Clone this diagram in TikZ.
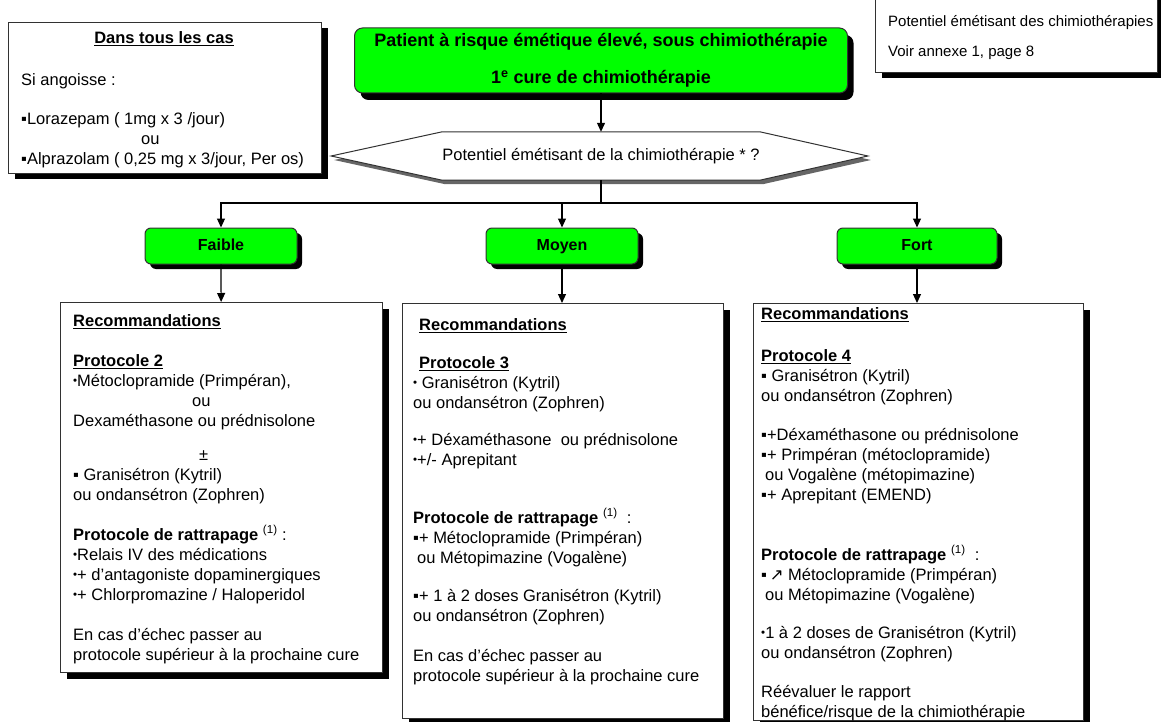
\documentclass[tikz,border=0pt]{standalone}
\usepackage{fontspec}
\setmainfont{Liberation Sans}
\newfontfamily\symfont{DejaVu Sans}
\usetikzlibrary{arrows.meta,shadows,backgrounds,positioning}
\definecolor{vert}{RGB}{0,255,0}
\definecolor{trait}{RGB}{50,50,50}
\tikzstyle{cadre} = [rectangle, draw=trait, fill=white, line width=1pt, inner sep=0pt, anchor=north west,
drop shadow={shadow xshift=6pt, shadow yshift=-6pt, fill=black, opacity=1}]
\tikzstyle{niveau} = [rectangle, rounded corners=6pt, draw=trait, fill=vert, line width=1pt, minimum width=152pt,
minimum height=36pt, text height=12pt, text depth=3pt, font=\fontsize{16}{20}\selectfont\bfseries,
drop shadow={shadow xshift=5pt, shadow yshift=-5pt, fill=black, opacity=1}]
\tikzstyle{texte} = [anchor=north west, align=left, inner sep=0pt, font=\fontsize{16.5}{20}\selectfont]
\tikzstyle{line} = [draw, line width=1.2pt, -{Triangle[length=9pt,width=8pt]}]
\newcommand{\puce}{\raisebox{0.22ex}{\scalebox{0.7}{•}}}
\newcommand{\carre}{▪}

\begin{document}
\begin{tikzpicture}[x=1pt,y=-1pt]
\useasboundingbox (0,0) rectangle (1161,722);

         % encadres du haut
         \node (tous) [cadre, minimum width=313pt, minimum height=151pt] at (8,22) {};
         \node (tous titre) [font=\fontsize{16.5}{20}\selectfont\bfseries] at (164,39) {\underline{Dans tous les cas}};
         \node (tous texte) [texte] at (21,73) {Si angoisse :\\[19pt]
           \carre Lorazepam ( 1mg x 3 /jour)\\
           \hspace*{120pt}ou\\
           \carre Alprazolam ( 0,25 mg x 3/jour, Per os)};

         \node (annexe) [cadre, minimum width=282pt, minimum height=90pt] at (875,-18) {};
         \node (annexe texte) [texte, font=\fontsize{15}{20}\selectfont] at (888,15) {Potentiel émétisant des chimiothérapies\\[10pt]
           Voir annexe 1, page 8};

         \node (patient) [rectangle, rounded corners=8pt, draw=trait, fill=vert, line width=1pt, minimum width=493pt,
           minimum height=65pt, align=center, font=\fontsize{18}{20}\selectfont\bfseries,
           drop shadow={shadow xshift=6pt, shadow yshift=-7pt, fill=black, opacity=1}] at (601,60.5)
           {Patient à risque émétique élevé, sous chimiothérapie\\[17pt] 1\textsuperscript{e} cure de chimiothérapie};

         \node (potentiel) [minimum width=217pt, minimum height=48pt, inner sep=0pt, font=\fontsize{16.5}{20}\selectfont]
           at (601,156) {Potentiel émétisant de la chimiothérapie * ?};
         \begin{scope}[on background layer]
           \fill[black!60] ([shift={(3,4)}]potentiel.north west) -- ([shift={(3,4)}]potentiel.north east)
             -- ([shift={(111,4)}]potentiel.east) -- ([shift={(3,4)}]potentiel.south east)
             -- ([shift={(3,4)}]potentiel.south west) -- ([shift={(-108,4)}]potentiel.west) -- cycle;
           \filldraw[draw=trait, fill=white, line width=1pt] (potentiel.north west) -- (potentiel.north east)
             -- ([shift={(108,0)}]potentiel.east) -- (potentiel.south east)
             -- (potentiel.south west) -- ([shift={(-111,0)}]potentiel.west) -- cycle;
         \end{scope}

         % niveaux
         \coordinate (fourche) at (601,203);
         \node (faible) [niveau] at (221,246) {Faible};
         \node (moyen)  [niveau] at (562,246) {Moyen};
         \node (fort)   [niveau, minimum width=160pt] at (917,246) {Fort};

         % recommandations
         \node (recfaible) [cadre, minimum width=322pt, minimum height=370pt] at (60,302) {};
         \node (recmoyen)  [cadre, minimum width=321pt, minimum height=415pt] at (402,303) {};
         \node (recfort)   [cadre, minimum width=330pt, minimum height=417pt] at (753,303) {};

         \node (texte faible) [texte] at (73,314) {\underline{\textbf{Recommandations}}\\[20pt]
           \underline{\textbf{Protocole 2}}\\
           \puce Métoclopramide (Primpéran),\\
           \hspace*{119pt}ou\\
           Dexaméthasone ou prédnisolone\\[14pt]
           \hspace*{126pt}±\\
           \carre{} Granisétron (Kytril)\\
           ou ondansétron (Zophren)\\[20pt]
           \textbf{Protocole de rattrapage} \textsuperscript{(1)} :\\
           \puce Relais IV des médications\\
           \puce+ d’antagoniste dopaminergiques\\
           \puce+ Chlorpromazine / Haloperidol\\[20pt]
           En cas d’échec passer au\\
           protocole supérieur à la prochaine cure};

         \node (texte moyen) [texte] at (413,318) {\hspace*{6pt}\underline{\textbf{Recommandations}}\\[18pt]
           \hspace*{6pt}\underline{\textbf{Protocole 3}}\\
           \puce{} Granisétron (Kytril)\\
           ou ondansétron (Zophren)\\[17pt]
           \puce+ Déxaméthasone\ \ ou prédnisolone\\
           \puce+/- Aprepitant\\[38pt]
           \textbf{Protocole de rattrapage} \textsuperscript{(1)}\ \ :\\
           \carre+ Métoclopramide (Primpéran)\\
           \hspace*{4pt}ou Métopimazine (Vogalène)\\[18pt]
           \carre+ 1 à 2 doses Granisétron (Kytril)\\
           ou ondansétron (Zophren)\\[20pt]
           En cas d’échec passer au\\
           protocole supérieur à la prochaine cure};

         \node (texte fort) [texte] at (761,307) {\underline{\textbf{Recommandations}}\\[22pt]
           \underline{\textbf{Protocole 4}}\\
           \carre{} Granisétron (Kytril)\\
           ou ondansétron (Zophren)\\[19pt]
           \carre+Déxaméthasone ou prédnisolone\\
           \carre+ Primpéran (métoclopramide)\\
           \hspace*{4pt}ou Vogalène (métopimazine)\\
           \carre+ Aprepitant (EMEND)\\[40pt]
           \textbf{Protocole de rattrapage} \textsuperscript{(1)}\ \ :\\
           \carre\,{\symfont ↗} Métoclopramide (Primpéran)\\
           \hspace*{4pt}ou Métopimazine (Vogalène)\\[18pt]
           \puce 1 à 2 doses de Granisétron (Kytril)\\
           ou ondansétron (Zophren)\\[19pt]
           Réévaluer le rapport\\
           bénéfice/risque de la chimiothérapie};

         % fleches
         \path [line] (patient) -- (potentiel);
         \draw [line width=1.2pt] (potentiel.south) -- (fourche);
         \path [line] (fourche) -| (faible);
         \path [line] (fourche) -| (moyen);
         \path [line] (fourche) -| (fort);

         \path [line] (faible) -- (recfaible);
         \path [line] (moyen) -- (recmoyen.north -| moyen);
         \path [line] (fort) -- (recfort.north -| fort);

\end{tikzpicture}
\end{document}
